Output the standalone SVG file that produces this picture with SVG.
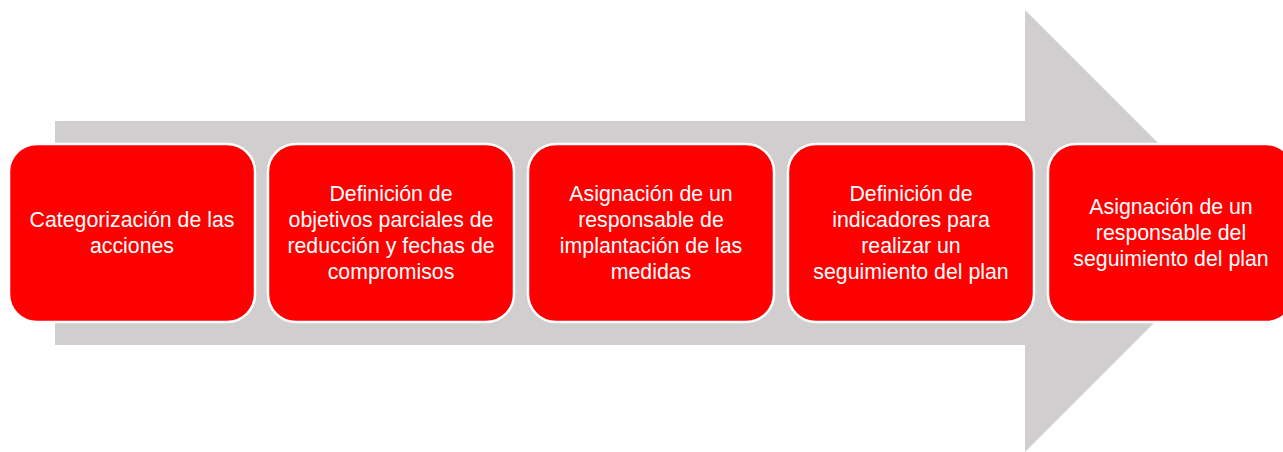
<svg xmlns="http://www.w3.org/2000/svg" width="1283" height="452" viewBox="0 0 1283 452">
<style>
.box{fill:#FF0000;stroke:#FFFFFF;stroke-width:2.5}
.lbl{font-family:"Liberation Sans",Arial,sans-serif;font-size:21.3px;fill:#FFFFFF;text-anchor:middle}
</style>
<rect width="1283" height="452" fill="#FFFFFF"/>
<g id="connectors">
<path id="big-arrow" d="M55,121 H1025 V10 L1246,231 L1025,452 V345 H55 Z" fill="#D0CECF"/>
</g>
<g id="node1">
<rect class="box" x="9" y="144" width="246" height="178" rx="28"/>
<text class="lbl" x="132" y="227">Categorización de las</text>
<text class="lbl" x="132" y="253">acciones</text>
</g>
<g id="node2">
<rect class="box" x="268" y="144" width="246" height="178" rx="28"/>
<text class="lbl" x="391" y="201">Definición de</text>
<text class="lbl" x="391" y="227">objetivos parciales de</text>
<text class="lbl" x="391" y="253">reducción y fechas de</text>
<text class="lbl" x="391" y="279">compromisos</text>
</g>
<g id="node3">
<rect class="box" x="528" y="144" width="246" height="178" rx="28"/>
<text class="lbl" x="651" y="201">Asignación de un</text>
<text class="lbl" x="651" y="227">responsable de</text>
<text class="lbl" x="651" y="253">implantación de las</text>
<text class="lbl" x="651" y="279">medidas</text>
</g>
<g id="node4">
<rect class="box" x="788" y="144" width="246" height="178" rx="28"/>
<text class="lbl" x="911" y="201">Definición de</text>
<text class="lbl" x="911" y="227">indicadores para</text>
<text class="lbl" x="911" y="253">realizar un</text>
<text class="lbl" x="911" y="279">seguimiento del plan</text>
</g>
<g id="node5">
<rect class="box" x="1048" y="144" width="246" height="178" rx="28"/>
<text class="lbl" x="1171" y="214">Asignación de un</text>
<text class="lbl" x="1171" y="240">responsable del</text>
<text class="lbl" x="1171" y="266">seguimiento del plan</text>
</g>
</svg>
